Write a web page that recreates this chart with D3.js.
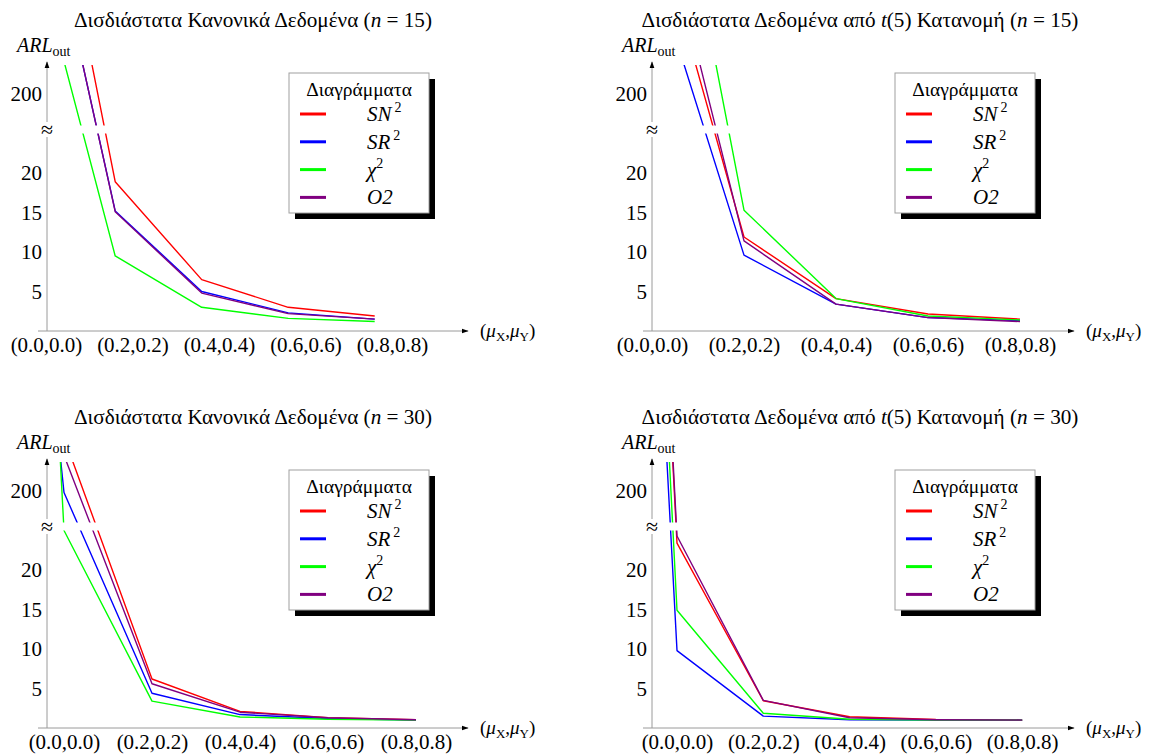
<!DOCTYPE html>
<html>
<head>
<meta charset="utf-8">
<script src="https://cdn.jsdelivr.net/npm/d3@7/dist/d3.min.js"></script>
</head>
<body style="margin:0; background:#fff">
<svg id="chart" width="1153" height="756"></svg>
<script>

// x categories (mean shifts)
var xLabels = ["(0.0,0.0)", "(0.2,0.2)", "(0.4,0.4)", "(0.6,0.6)", "(0.8,0.8)"];
var muValues = [0.0, 0.2, 0.4, 0.6, 0.8];
var leadMu = -0.04;   // in-control point drawn just before (0.0,0.0) in the n = 30 panels

// control charts
var chartNames = [
    { base: "SN", sup: "2" },
    { base: "SR", sup: "2" },
    { base: "χ", sup: "2" },
    { base: "O2", sup: "" }
];
var chartColors = ["#ff0000", "#0000ff", "#00ff00", "#800080"];

// ARL_out values, one row per chart: SN2, SR2, chi2, O2
var normal15 = [
    [2100, 18.9, 6.5, 3.0, 1.9],
    [1690, 15.2, 5.0, 2.3, 1.5],
    [1110, 9.5, 3.0, 1.6, 1.2],
    [1700, 15.1, 4.8, 2.2, 1.5]
];
var t5n15 = [
    [1210, 11.9, 4.1, 2.15, 1.5],
    [915, 9.6, 3.4, 1.7, 1.3],
    [2170, 15.3, 4.1, 1.9, 1.4],
    [1410, 11.4, 3.4, 1.7, 1.2]
];
// n = 30 rows start with the lead (in-control) point
var normal30 = [
    [2000, 490, 6.2, 2.1, 1.3, 1.05],
    [1120, 189, 4.4, 1.7, 1.2, 1.0],
    [1810, 25, 3.4, 1.4, 1.1, 1.0],
    [1900, 392, 5.6, 2.0, 1.3, 1.05]
];
var t5n30 = [
    [1720, 23.4, 3.45, 1.43, 1.08, 1.0],
    [1100, 9.8, 1.5, 1.05, 1.0, 1.0],
    [1400, 14.9, 1.86, 1.1, 1.0, 1.0],
    [1750, 24.3, 3.5, 1.3, 1.05, 1.0]
];

var lowTicks = [5, 10, 15, 20];
var highTicks = [200];

var panels = [
    { kind: "normal", n: 15, data: normal15, lead: false, shift: -0.04,
      axisX: 47, zeroX: 46, step: 86.5, axisY: 331, arrowX: 468, titleX: 253, legendX: 289 },
    { kind: "t5", n: 15, data: t5n15, lead: false, shift: 0,
      axisX: 652, zeroX: 652, step: 92, axisY: 331, arrowX: 1074, titleX: 860, legendX: 895 },
    { kind: "normal", n: 30, data: normal30, lead: true, shift: 0,
      axisX: 47, zeroX: 64, step: 88, axisY: 728, arrowX: 468, titleX: 253, legendX: 289 },
    { kind: "t5", n: 30, data: t5n30, lead: true, shift: 0,
      axisX: 652, zeroX: 677, step: 86.3, axisY: 728, arrowX: 1074, titleX: 860, legendX: 895 }
];

var serif = "'Liberation Serif', monospace";

// every text gets its font inline
function font(sel, size) {
    return sel.style("font-family", serif).style("font-size", size + "px").attr("fill", "#000");
}

var svg = d3.select("#chart");
var defs = svg.append("defs");

defs.append("marker")
    .attr("id", "arrow")
    .attr("viewBox", "0 0 10 10")
    .attr("refX", 9).attr("refY", 5)
    .attr("markerWidth", 7).attr("markerHeight", 7)
    .attr("markerUnits", "userSpaceOnUse")
    .attr("orient", "auto")
    .append("path")
    .attr("d", "M0,1.5 L10,5 L0,8.5 z")
    .attr("fill", "#000");

var axisColor = "#9a9a9a";

panels.forEach(function(p, pi) {

    var g = svg.append("g");
    var top = p.axisY - 266;

    // broken y scale: 0..25 below the break, 25..200+ above it
    var yLow = d3.scaleLinear().domain([0, 25]).range([p.axisY, p.axisY - 197.5]);
    var yHigh = d3.scaleLinear().domain([25, 200]).range([p.axisY - 205.5, p.axisY - 237.5]);
    function yPos(v) { return v <= 25 ? yLow(v) : yHigh(v); }

    var x = d3.scaleLinear()
        .domain([0, 0.2])
        .range([p.zeroX, p.zeroX + p.step]);

    // title
    var title = font(g.append("text"), 21.2)
        .attr("x", p.titleX).attr("y", p.axisY - 304)
        .attr("text-anchor", "middle");
    if (p.kind === "normal") {
        title.append("tspan").text("Δισδιάστατα Κανονικά Δεδομένα (");
    } else {
        title.append("tspan").text("Δισδιάστατα Δεδομένα από ");
        title.append("tspan").style("font-style", "italic").text("t");
        title.append("tspan").text("(5) Κατανομή (");
    }
    title.append("tspan").style("font-style", "italic").text("n");
    title.append("tspan").text(" = " + p.n + ")");

    // y label
    var yl = font(g.append("text"), 20)
        .attr("x", p.axisX - 30).attr("y", top - 13);
    yl.append("tspan").style("font-style", "italic").text("ARL");
    yl.append("tspan").attr("dy", 4).style("font-size", "14px").text("out");

    // axes lines
    g.append("line")
        .attr("x1", p.axisX).attr("x2", p.axisX)
        .attr("y1", p.axisY).attr("y2", top - 3)
        .attr("stroke", axisColor).attr("stroke-width", 1)
        .attr("marker-end", "url(#arrow)");
    g.append("line")
        .attr("x1", p.axisX - 9).attr("x2", p.arrowX)
        .attr("y1", p.axisY).attr("y2", p.axisY)
        .attr("stroke", axisColor).attr("stroke-width", 1)
        .attr("marker-end", "url(#arrow)");

    // tick labels via d3 axes
    var lowAxis = d3.axisLeft(yLow).tickValues(lowTicks).tickSize(0).tickPadding(5);
    var highAxis = d3.axisLeft(yHigh).tickValues(highTicks).tickSize(0).tickPadding(5);
    [lowAxis, highAxis].forEach(function(ax) {
        var a = g.append("g").attr("transform", "translate(" + p.axisX + ",0)").call(ax);
        a.select(".domain").remove();
        font(a.selectAll("text"), 21);
    });

    var xAxis = d3.axisBottom(x)
        .tickValues(muValues)
        .tickFormat(function(d, i) { return xLabels[i]; })
        .tickSize(0).tickPadding(6);
    var xa = g.append("g").attr("transform", "translate(0," + p.axisY + ")").call(xAxis);
    xa.select(".domain").remove();
    font(xa.selectAll("text"), 21);

    // x label
    var xl = font(g.append("text"), 19)
        .attr("x", p.arrowX + 12).attr("y", p.axisY + 6);
    xl.append("tspan").text("(");
    xl.append("tspan").style("font-style", "italic").text("μ");
    xl.append("tspan").attr("dy", 4).style("font-size", "13px").text("X");
    xl.append("tspan").attr("dy", -4).text(",");
    xl.append("tspan").style("font-style", "italic").text("μ");
    xl.append("tspan").attr("dy", 4).style("font-size", "13px").text("Y");
    xl.append("tspan").attr("dy", -4).text(")");

    // lines
    var clipId = "clip" + pi;
    defs.append("clipPath").attr("id", clipId)
        .append("rect")
        .attr("x", p.axisX + 0.5).attr("y", top)
        .attr("width", p.arrowX - p.axisX).attr("height", p.axisY - top);

    var xs = (p.lead ? [leadMu] : []).concat(muValues);
    var line = d3.line()
        .x(function(d, i) { return x(xs[i] + p.shift); })
        .y(function(d) { return yPos(d); });

    var lg = g.append("g").attr("clip-path", "url(#" + clipId + ")");
    lg.selectAll("path")
        .data(p.data)
        .join("path")
        .attr("d", line)
        .attr("fill", "none")
        .attr("stroke", function(d, i) { return chartColors[i]; })
        .attr("stroke-width", 1.4)
        .attr("stroke-linejoin", "round");

    // break gap
    g.append("rect")
        .attr("x", p.axisX + 1).attr("y", p.axisY - 205.5)
        .attr("width", p.arrowX - p.axisX).attr("height", 8)
        .attr("fill", "#fff");
    g.append("rect")
        .attr("x", p.axisX - 5).attr("y", p.axisY - 209)
        .attr("width", 10).attr("height", 15)
        .attr("fill", "#fff");
    font(g.append("text"), 22)
        .attr("x", p.axisX).attr("y", p.axisY - 201.5)
        .attr("text-anchor", "middle").attr("dominant-baseline", "central")
        .text("≈");

    // legend
    var lx = p.legendX, ly = p.axisY - 258;
    var leg = g.append("g").attr("transform", "translate(" + lx + "," + ly + ")");
    leg.append("rect").attr("x", 6).attr("y", 6).attr("width", 140).attr("height", 140).attr("fill", "#000");
    leg.append("rect").attr("x", 0).attr("y", 0).attr("width", 140).attr("height", 140)
        .attr("fill", "#fff").attr("stroke", "#a0a0a0").attr("stroke-width", 1);
    font(leg.append("text"), 19.5).attr("x", 70).attr("y", 23).attr("text-anchor", "middle")
        .text("Διαγράμματα");

    var entry = leg.selectAll("g.entry")
        .data(chartNames)
        .join("g")
        .attr("class", "entry")
        .attr("transform", function(d, i) { return "translate(0," + (41 + i * 27.8) + ")"; });
    entry.append("line")
        .attr("x1", 11).attr("x2", 37)
        .attr("stroke", function(d, i) { return chartColors[i]; })
        .attr("stroke-width", 3);
    var et = font(entry.append("text"), 21).attr("x", 78).attr("y", 7);
    et.append("tspan").style("font-style", "italic").text(function(d) { return d.base; });
    et.append("tspan")
        .attr("dx", function(d) { return d.base === "χ" ? 0 : 3; })
        .attr("dy", -9).style("font-size", "14px")
        .text(function(d) { return d.sup; });
});
</script>
</body>
</html>
